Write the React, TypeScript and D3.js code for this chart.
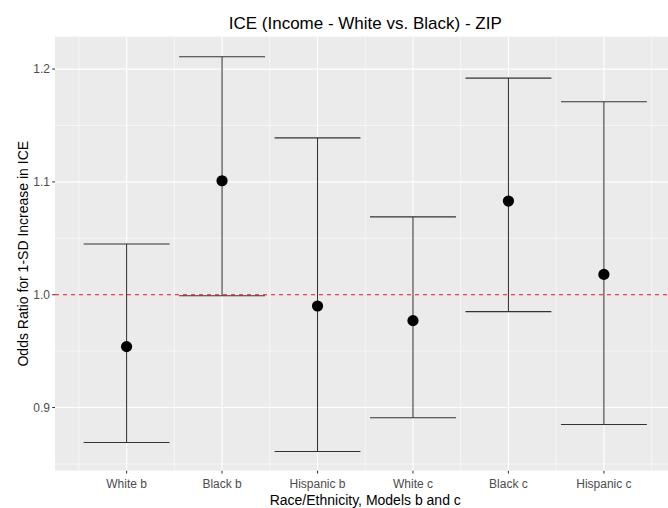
import React from 'react';
import * as d3 from 'd3';

// odds ratios with 95% CI
const categories = ['White b', 'Black b', 'Hispanic b', 'White c', 'Black c', 'Hispanic c'];
const estimates = [0.954, 1.101, 0.990, 0.977, 1.083, 1.018];
const lower = [0.869, 0.999, 0.861, 0.891, 0.985, 0.885];
const upper = [1.045, 1.211, 1.139, 1.069, 1.192, 1.171];
const yTicks = [0.9, 1.0, 1.1, 1.2];
const yMinor = [0.85, 0.95, 1.05, 1.15];
const refLine = 1.0;

const W = 668, H = 508;
const font = '"Liberation Sans", Arial, Helvetica, sans-serif';

const App = () => {
    const panel = { left: 55, right: 675.5, top: 36.7, bottom: 470.7 };

    const x = d3.scaleLinear()
        .domain([0.25, categories.length + 0.75])
        .range([panel.left, panel.right]);

    const y = d3.scaleLinear()
        .domain([0.844, 1.2287])
        .range([panel.bottom, panel.top]);

    const xMajor = d3.range(1, categories.length + 1);
    const xMinor = d3.range(0.5, categories.length + 1, 1);
    const halfWidth = 0.45; // errorbar cap half width, in category units
    const cx = (panel.left + panel.right) / 2;
    const cy = (panel.top + panel.bottom) / 2;

    return (
        <svg width={W} height={H} style={{ position: 'absolute', left: 0, top: 0, background: '#fff' }}>
            <rect x={panel.left} y={panel.top} width={panel.right - panel.left} height={panel.bottom - panel.top} fill="#EBEBEB" />

            {/* minor grid */}
            {yMinor.map(v => (
                <line key={'ym' + v} x1={panel.left} x2={panel.right} y1={y(v)} y2={y(v)} stroke="#fff" strokeWidth={0.55} />
            ))}
            {xMinor.map(v => (
                <line key={'xm' + v} x1={x(v)} x2={x(v)} y1={panel.top} y2={panel.bottom} stroke="#fff" strokeWidth={0.55} />
            ))}
            {/* major grid */}
            {yTicks.map(v => (
                <line key={'yM' + v} x1={panel.left} x2={panel.right} y1={y(v)} y2={y(v)} stroke="#fff" strokeWidth={1.1} />
            ))}
            {xMajor.map(v => (
                <line key={'xM' + v} x1={x(v)} x2={x(v)} y1={panel.top} y2={panel.bottom} stroke="#fff" strokeWidth={1.1} />
            ))}

            {/* error bars */}
            {categories.map((c, i) => {
                const px = x(i + 1);
                return (
                    <g key={c} stroke="#333" strokeWidth={1.05} fill="none">
                        <line x1={px} x2={px} y1={y(lower[i])} y2={y(upper[i])} />
                        <line x1={x(i + 1 - halfWidth)} x2={x(i + 1 + halfWidth)} y1={y(upper[i])} y2={y(upper[i])} />
                        <line x1={x(i + 1 - halfWidth)} x2={x(i + 1 + halfWidth)} y1={y(lower[i])} y2={y(lower[i])} />
                    </g>
                );
            })}

            {/* point estimates */}
            {estimates.map((v, i) => (
                <circle key={'p' + i} cx={x(i + 1)} cy={y(v)} r={5.6} fill="#000" />
            ))}

            <line x1={panel.left} x2={panel.right} y1={y(refLine)} y2={y(refLine)}
                stroke="#FF0000" strokeWidth={1.05} strokeDasharray="4,4" />

            {/* y axis */}
            {yTicks.map(v => (
                <g key={'yt' + v}>
                    <line x1={panel.left - 2.8} x2={panel.left} y1={y(v)} y2={y(v)} stroke="#333" strokeWidth={1.05} />
                    <text x={panel.left - 5} y={y(v)} dy="0.35em" textAnchor="end" fontFamily={font} fontSize={12} fill="#4D4D4D">
                        {d3.format('.1f')(v)}
                    </text>
                </g>
            ))}

            {/* x axis */}
            {categories.map((c, i) => (
                <g key={'xt' + c}>
                    <line x1={x(i + 1)} x2={x(i + 1)} y1={panel.bottom} y2={panel.bottom + 2.8} stroke="#333" strokeWidth={1.05} />
                    <text x={x(i + 1)} y={488} textAnchor="middle" fontFamily={font} fontSize={12} fill="#4D4D4D">{c}</text>
                </g>
            ))}

            <text x={cx} y={29} textAnchor="middle" fontFamily={font} fontSize={17} fill="#000">
                ICE (Income - White vs. Black) - ZIP
            </text>
            <text x={cx} y={505} textAnchor="middle" fontFamily={font} fontSize={14} fill="#000">
                Race/Ethnicity, Models b and c
            </text>
            <text transform={`translate(28,${cy}) rotate(-90)`} textAnchor="middle" fontFamily={font} fontSize={14} fill="#000">
                Odds Ratio for 1-SD Increase in ICE
            </text>
        </svg>
    );
};

export default App;
